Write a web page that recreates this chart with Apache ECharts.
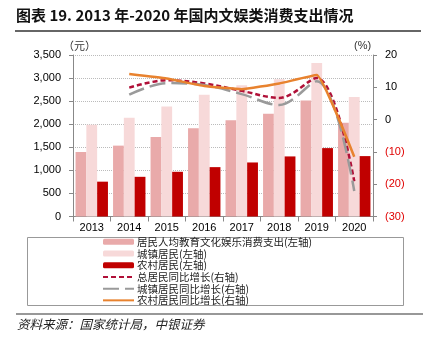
<!DOCTYPE html>
<html><head><meta charset="utf-8">
<script src="https://cdn.jsdelivr.net/npm/echarts@6/dist/echarts.min.js"></script>
<style>html,body{margin:0;padding:0;background:#fff}#c{width:428px;height:349px}</style>
</head><body><div id="c"></div>
<script>
const years = ['2013','2014','2015','2016','2017','2018','2019','2020'];
const totalSpend = [1398,1536,1723,1915,2086,2226,2513,2032];
const urbanSpend = [1988,2142,2383,2638,2847,2974,3328,2592];
const ruralSpend = [755,860,969,1070,1171,1302,1482,1309];
const totalGrowth = [null,9.9,12.2,11.2,8.9,6.7,12.9,-19.1];
const urbanGrowth = [null,7.7,11.3,10.7,7.9,4.5,11.9,-22.1];
const ruralGrowth = [null,14.1,12.7,10.4,9.4,11.2,13.8,-11.5];
const leftTicks = [0,3500,500];
const rightTicks = [-30,20,10];

const cjk = '"Noto Sans CJK SC", sans-serif';
const lat = '"Liberation Sans", Arial, sans-serif';
const hide = {opacity:0, borderWidth:0};
const chart = echarts.init(document.getElementById('c'));
chart.setOption({
  animation:false,
  backgroundColor:'#fff',
  grid:{left:73,right:55,top:55,bottom:132.5},
  xAxis:{type:'category',data:years,
    axisLine:{lineStyle:{color:'#888',width:1}},
    axisTick:{show:true,length:5,lineStyle:{color:'#888'}},
    axisLabel:{color:'#000',fontSize:11,fontFamily:lat,margin:6}},
  yAxis:[
    {type:'value',min:leftTicks[0],max:leftTicks[1],interval:leftTicks[2],
     axisLine:{show:true,lineStyle:{color:'#888'}},
     axisTick:{show:true,inside:false,length:4,lineStyle:{color:'#888'}},
     axisLabel:{color:'#000',fontSize:11,fontFamily:lat,margin:12,
       formatter:v=>v.toLocaleString('en-US')},
     splitLine:{show:true,lineStyle:{color:'#bbb',type:[1,1],width:1}}},
    {type:'value',min:rightTicks[0],max:rightTicks[1],interval:rightTicks[2],position:'right',
     axisLine:{show:true,lineStyle:{color:'#888'}},
     axisTick:{show:true,length:4,lineStyle:{color:'#888'}},
     axisLabel:{fontSize:11,fontFamily:lat,margin:12,
       formatter:v=>v<0?'('+(-v)+')':String(v),
       color:v=>Number(v)<0?'#e00000':'#000'},
     splitLine:{show:false}}
  ],
  legend:{orient:'vertical',left:102,top:236,itemWidth:31,itemHeight:6,itemGap:0,
    padding:0,
    textStyle:{fontSize:10.5,fontFamily:cjk,color:'#222',lineHeight:11.7,padding:[0,0,0,-2]},
    data:[
      {name:'居民人均教育文化娱乐消费支出(左轴)'},
      {name:'城镇居民(左轴)'},
      {name:'农村居民(左轴)'},
      {name:'总居民同比增长(右轴)',itemStyle:hide},
      {name:'城镇居民同比增长(右轴)',itemStyle:hide},
      {name:'农村居民同比增长(右轴)',itemStyle:hide}
    ]},
  series:[
    {name:'居民人均教育文化娱乐消费支出(左轴)',type:'bar',data:totalSpend,barWidth:10.8,barGap:'0%',
     itemStyle:{color:'#E9AAAA'}},
    {name:'城镇居民(左轴)',type:'bar',data:urbanSpend,barWidth:10.8,barGap:'0%',
     itemStyle:{color:'#F7D9D9'}},
    {name:'农村居民(左轴)',type:'bar',data:ruralSpend,barWidth:10.8,barGap:'0%',
     itemStyle:{color:'#C00000'}},
    {name:'总居民同比增长(右轴)',type:'line',yAxisIndex:1,data:totalGrowth,symbol:'none',smooth:0.35,
     lineStyle:{color:'#B01038',width:2.5,type:[5,3]},itemStyle:{color:'#B01038'}},
    {name:'城镇居民同比增长(右轴)',type:'line',yAxisIndex:1,data:urbanGrowth,symbol:'none',smooth:0.35,
     lineStyle:{color:'#9a9a9a',width:2.5,type:[16,6]},itemStyle:{color:'#9a9a9a'}},
    {name:'农村居民同比增长(右轴)',type:'line',yAxisIndex:1,data:ruralGrowth,symbol:'none',smooth:0.1,
     lineStyle:{color:'#E8822E',width:2.5},itemStyle:{color:'#E8822E'}}
  ],
  graphic:[
    {type:'text',left:16,top:8,style:{text:'图表 19. 2013 年-2020 年国内文娱类消费支出情况',
      font:'bold 15px "Noto Sans CJK SC", sans-serif',fill:'#111'}},
    {type:'line',shape:{x1:15,y1:31,x2:421,y2:31},style:{stroke:'#333',lineWidth:1.5}},
    {type:'text',left:63,top:40,style:{text:'（元）',font:'11px "Noto Sans CJK SC", sans-serif',fill:'#333'}},
    {type:'text',left:354,top:40,style:{text:'(%)',font:'11px "Liberation Sans", sans-serif',fill:'#333'}},
    {type:'rect',shape:{x:27.5,y:237.5,width:376,height:68},style:{fill:'none',stroke:'#999',lineWidth:1}},
    {type:'line',shape:{x1:16,y1:314,x2:423,y2:314},style:{stroke:'#333',lineWidth:1.2}},
    {type:'text',left:17,top:318,style:{text:'资料来源：国家统计局，中银证券',
      font:'italic 12.5px "Noto Sans CJK SC", sans-serif',fill:'#222'}}
  ]
});
</script></body></html>
